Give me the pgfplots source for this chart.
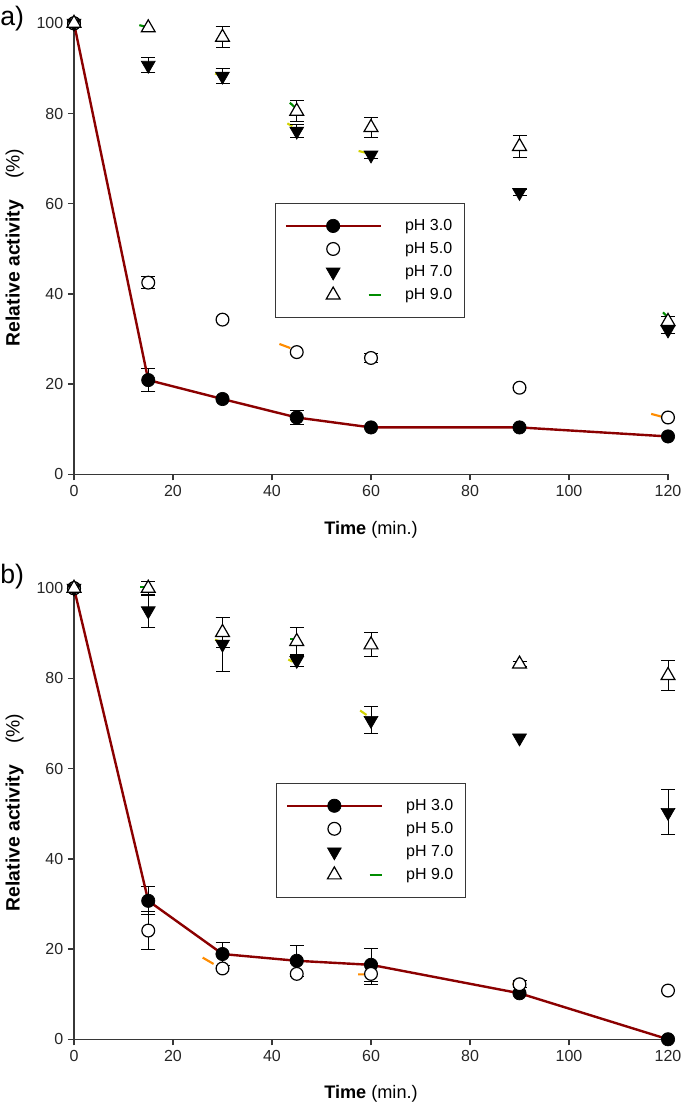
\documentclass[border=0pt]{standalone}
\usepackage{fontspec}
\setmainfont{Liberation Sans}
\usepackage{pgfplots}
\pgfplotsset{compat=1.18}
\definecolor{darkred}{RGB}{139,0,0}
\definecolor{axgray}{RGB}{55,55,55}
\definecolor{artgreen}{RGB}{0,140,0}
\definecolor{artyellow}{RGB}{210,210,0}
\definecolor{artorange}{RGB}{255,140,0}

\pgfplotsset{
  myaxis/.style={
    scale only axis, width=445.5pt, height=338.25pt,
    xmin=0, xmax=120, ymin=0, ymax=100,
    axis x line*=bottom, axis y line*=left,
    axis line style={axgray, line width=1pt},
    xtick={0,20,...,120}, ytick={0,20,...,100},
    tick style={axgray, line width=1pt},
    tick align=outside, major tick length=4.5pt,
    tick label style={font=\fontsize{12}{14}\selectfont, text=black!85},
    /pgf/number format/assume math mode=true,
    clip=false,
    unbounded coords=jump,
    xlabel={\textbf{Time} (min.)},
    ylabel={\textbf{Relative activity}\hspace{16pt}(\%)},
    xlabel style={font=\fontsize{13.6}{16}\selectfont, at={(axis description cs:0.5,-0.122)}, anchor=center},
    ylabel style={font=\fontsize{14.5}{17}\selectfont, at={(axis description cs:-0.1,0.503)}, anchor=center},
    legend cell align=left,
    legend style={draw=axgray, line width=0.8pt, font=\fontsize{12}{14}\selectfont,
      inner xsep=7pt, inner ysep=10pt, row sep=3.4pt,
      /tikz/every odd column/.append style={column sep=15.5pt}},
  },
  eb/.style={forget plot, only marks, mark=none,
    error bars/.cd, y dir=both, y explicit,
    error bar style={black, line width=0.75pt},
    error mark options={rotate=90, black, line width=0.75pt, mark size=5.25pt}},
  art/.style={forget plot, line width=1.6pt, #1},
  p3/.style={darkred, line width=1.8pt, mark=*, mark size=5pt,
    mark options={solid, fill=black, draw=black, line width=0.5pt},
    legend image code/.code={\draw[mark repeat=2,mark phase=2,##1] plot coordinates {(0pt,0pt) (35.5pt,0pt) (71pt,0pt)};}},
  p5/.style={only marks, mark=*, mark size=4.8pt,
    mark options={fill=white, draw=black, line width=0.9pt},
    legend image code/.code={\draw[##1] plot coordinates {(35.5pt,0pt)}; \path (71pt,0pt);}},
  p7/.style={only marks, mark=triangle*, mark size=6pt,
    mark options={rotate=180, fill=black, draw=black, line width=0.5pt},
    legend image code/.code={\draw[##1] plot coordinates {(35.5pt,0pt)}; \path (71pt,0pt);}},
  p9/.style={only marks, mark=triangle*, mark size=6pt,
    mark options={fill=white, draw=black, line width=0.9pt},
    legend image code/.code={\draw[##1] plot coordinates {(35.5pt,0pt)}; \draw[artgreen, line width=1.6pt] (62pt,0pt) -- (71pt,0pt);}},
}

\begin{document}
\begin{tikzpicture}
\useasboundingbox (0,0) rectangle (513.75pt,831.75pt);

% ---------------- panel a ----------------
\begin{axis}[myaxis, at={(55.5pt,476pt)}, anchor=south west,
  legend style={at={(axis description cs:0.338,0.602)}, anchor=north west}]
\addplot[art=artgreen] coordinates {(13.2,99.6) (14.6,99.2) (nan,nan) (43.6,82.4) (44.6,81.4) (nan,nan) (119,35.9) (120,34.8)};
\addplot[art=artyellow] coordinates {(28.5,88.9) (29.3,88.5) (nan,nan) (43.1,77.8) (44.1,77.2) (nan,nan) (57.5,71.7) (59.3,71.2)};
\addplot[art=artorange] coordinates {(41.5,28.9) (43.7,28.0) (nan,nan) (116.6,13.4) (119,12.7)};

\addplot[eb] coordinates {(15,20.9) +- (0,2.5) (45,12.6) +- (0,1.5)};
\addplot[p3] coordinates {(0,100) (15,20.9) (30,16.7) (45,12.6) (60,10.4) (90,10.4) (120,8.4)};
\addlegendentry{pH 3.0}

\addplot[eb] coordinates {(15,42.5) +- (0,1.3) (60,25.8) +- (0,1.0)};
\addplot[p5] coordinates {(0,100) (15,42.5) (30,34.3) (45,27.1) (60,25.8) (90,19.2) (120,12.6)};
\addlegendentry{pH 5.0}

\addplot[eb] coordinates {(15,90.7) +- (0,1.7) (30,88.3) +- (0,1.7) (45,76.1) +- (0,1.5) (60,70.8) +- (0,0.8) (90,62.5) +- (0,0.6) (120,32) +- (0,0.8)};
\addplot[p7] coordinates {(0,100) (15,90.7) (30,88.3) (45,76.1) (60,70.8) (90,62.5) (120,32)};
\addlegendentry{pH 7.0}

\addplot[eb] coordinates {(30,96.9) +- (0,2.35) (45,80.5) +- (0,2.35) (60,76.9) +- (0,2.3) (90,72.7) +- (0,2.35) (120,33.9) +- (0,1.0)};
\addplot[p9] coordinates {(0,100) (15,99.0) (30,96.9) (45,80.5) (60,76.9) (90,72.7) (120,33.9)};
\addlegendentry{pH 9.0}
\end{axis}

% ---------------- panel b ----------------
\begin{axis}[myaxis, at={(55.5pt,52.3pt)}, anchor=south west,
  legend style={at={(axis description cs:0.34,0.569)}, anchor=north west}]
\addplot[art=artgreen] coordinates {(13.4,100.2) (14.4,100.2) (nan,nan) (43.7,88.8) (44.3,88.8)};
\addplot[art=artyellow] coordinates {(28.5,88.6) (29.2,88.3) (nan,nan) (43.3,84.2) (44.2,83.7) (nan,nan) (57.8,72.9) (59.1,71.9)};
\addplot[art=artorange] coordinates {(26,18.1) (28.2,16.7) (nan,nan) (57.4,14.4) (58.9,14.4) (nan,nan) (88.6,12.4) (89.2,12.2)};

\addplot[eb] coordinates {(15,30.7) +- (0,3.1) (30,18.9) +- (0,2.5) (45,17.4) +- (0,3.4) (60,16.5) +- (0,3.7)};
\addplot[p3] coordinates {(0,100) (15,30.7) (30,18.9) (45,17.4) (60,16.5) (90,10.2) (120,0)};
\addlegendentry{pH 3.0}

\addplot[eb] coordinates {(15,24.1) +- (0,4.2) (60,14.5) +- (0,2.3) (90,12.2) +- (0,0.8)};
\addplot[p5] coordinates {(0,100) (15,24.1) (30,15.7) (45,14.5) (60,14.5) (90,12.2) (120,10.8)};
\addlegendentry{pH 5.0}

\addplot[eb] coordinates {(15,95.0) +- (0,3.6) (30,87.6) +- (0,6.0) (45,84.0) +- (0,1.4) (60,70.7) +- (0,3.0) (120,50.3) +- (0,5.0)};
\addplot[p7] coordinates {(0,100) (15,95.0) (30,87.6) (45,84.0) (60,70.7) (90,66.8) (120,50.3)};
\addlegendentry{pH 7.0}

\addplot[eb] coordinates {(15,100) +- (0,1.6) (30,90.2) +- (0,3.3) (45,88.2) +- (0,3.1) (60,87.45) +- (0,2.65) (90,83.2) +- (0,0.5) (120,80.65) +- (0,3.25)};
\addplot[p9] coordinates {(0,100) (15,100) (30,90.2) (45,88.2) (60,87.45) (90,83.2) (120,80.65)};
\addlegendentry{pH 9.0}
\end{axis}

\node[font=\fontsize{20}{24}\selectfont, anchor=west, inner sep=0pt] at (0pt,817.5pt) {a)};
\node[font=\fontsize{20}{24}\selectfont, anchor=west, inner sep=0pt] at (0pt,399pt) {b)};
\end{tikzpicture}
\end{document}
